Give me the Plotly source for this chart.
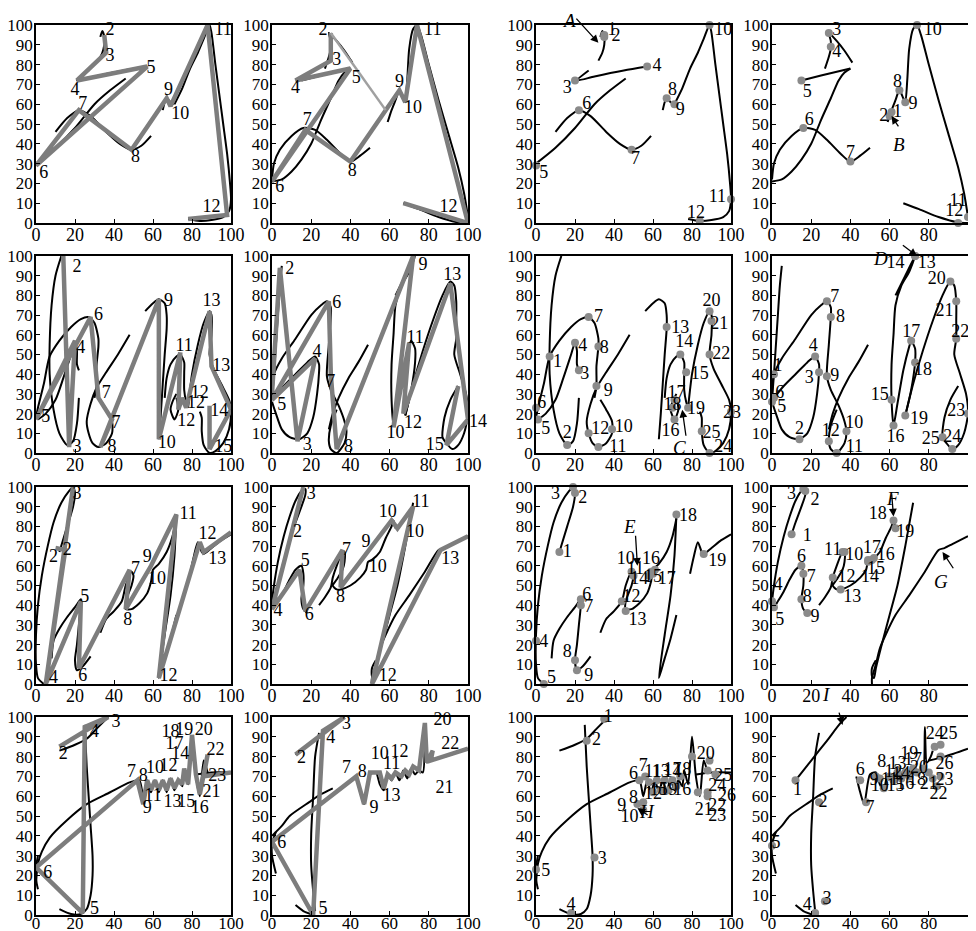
import plotly.graph_objects as go

# ---------------- data ----------------
# Row 1 strokes (left pair = columns 1 & 3, right pair = columns 2 & 4)
r1L_strokes = [
    [(32,82),(34,86),(35,90),(35,94),(34,97),(33,94)],
    [(27,77),(21,72),(30,74),(45,77),(57,79)],
    [(0,30),(10,38),(20,48),(30,60),(38,67),(46,73)],
    [(10,46),(16,53),(22,57),(28,54),(36,46),(43,40),(49,37),(54,39),(59,44)],
    [(65,57),(66,61),(67,63),(69,61),(71,60)],
    [(71,60),(75,68),(79,78),(83,86),(86,93),(89,100),(90,96),(92,80),(94,65),(96,50),(98,35),(99.5,20),(100,12),(99,6),(96,3),(90,1.5),(84,1),(78,2)],
]
r1c1_gray = [(35,95),(36,86),(21,72),(57,79),(0,29),(22,57),(49,37),(67,63),(69,59),(88,100),(98,4),(78,2)]
r1c1_labels = [("2",38,97),("3",38,84),("4",20,67),("5",59,78),("6",4,25),("7",24,60),("8",51,33),("9",68,67),("10",74,55),("11",96,97),("12",90,8)]
r1c3_points = [(35,95),(35,94),(20,72),(57,79),(0,29),(22,57),(49,37),(67,63),(71,60),(89,100),(100,12),(84,1)]
r1c3_labels = [("1",39,97),("2",41,94),("3",16,68),("4",62,79),("5",4,25),("6",26,60),("7",51,32),("8",70,67),("9",74,57),("10",96,97),("11",93,13),("12",82,5)]

r1R_strokes = [
    [(41,81),(37,87),(33,92),(29,96),(30,92),(30,88),(29,84),(27,78)],
    [(15,72),(25,74.5),(40,78)],
    [(0,21),(5,22),(10,26),(15,32),(20,40),(25,52),(30,63),(34,72),(37,76),(40,78)],
    [(0,22),(1,30),(4,37),(10,44),(16,48),(22,47),(28,42),(35,35),(40,31),(45,34),(50,38)],
    [(59,51),(60,54),(61,57),(63,62),(65,67),(67,63),(68,61),(69,72),(70,88),(72,98),(74,100),(76,95),(80,80),(85,62),(90,45),(95,28),(98,15),(100,3)],
    [(67,10),(75,7),(85,3),(95,0.3),(100,0)],
]
r1c2_gray = [(30,96),(30,82),(12,72),(40,78),(0,21),(17,47),(40,31),(65,67),(68,61),(74,100),(100,0),(67,10)]
r1c2_thin = [(30,96),(58,57)]
r1c2_labels = [("2",26,97),("3",33,82),("4",12,68),("5",43,73),("6",4,18),("7",18,52),("8",41,26),("9",65,71),("10",72,58),("11",82,97),("12",90,8)]
r1c4_points = [(29,96),(30,89),(15,72),(16,48),(40,31),(60,54),(61,56),(65,67),(68,61),(74,100),(100,3),(95,0)]
r1c4_labels = [("3",33,97),("4",33,86),("5",18,66),("6",19,52),("7",40,35),("2",57,54),("1",64,56),("8",64,71),("9",72,60),("10",82,97),("11",95,11),("12",93,6)]

# Row 2
r2L_strokes = [
    [(13,100),(10,90),(8,75),(7,55),(7,40),(9,22),(12,10),(16,4),(19,6),(21,15),(22,28)],
    [(0,18),(1,23),(4,35),(7,49),(12,57),(18,64),(23,68),(27,69),(30,66),(32,58),(32,54),(31,44),(31,34),(30,28)],
    [(48,60),(42,50),(36,41),(31,33),(28,25),(26,16),(27,10),(29,5),(32,3),(36,5),(39,10),(39,16),(36,22),(33,27)],
    [(1,17),(5,20),(10,27),(14,38),(18,50),(20,56),(21,52),(21,45),(22,42)],
    [(56,72),(60,76),(63,78),(66,76),(67,70),(67,63),(66,50),(65,35),(64,20),(63,7)],
    [(66,28),(67,38),(69,45),(72,49),(74,50),(76,46),(76,41),(76,32),(77,26),(78,23)],
    [(78,23),(80,40),(83,55),(86,66),(89,72),(90,70),(90,60),(89,50),(91,43),(95,35),(99,27),(100,21),(99,12),(96,5),(92,1),(89,0),(86,4),(85,11),(85,18),(84,21)],
    [(72,30),(70,26),(69,22),(71,17),(73,22),(72,28)],
]
r2c1_gray = [(14,100),(17,3),(20,57),(0,17),(28,69),(32,28),(39,17),(33,3),(63,78),(63,7),(74,51),(73,22),(75,28),(77,23),(89,72),(90,44),(100,22),(89,2),(89,24)]
r2c1_labels = [("2",21,94),("3",21,3),("4",23,53),("5",5,18),("6",32,70),("7",36,30),("7",41,15),("8",39,3),("9",68,77),("10",67,5),("11",76,54),("12",84,30),("12",82,25),("12",77,16),("13",90,77),("13",95,44),("14",94,21),("15",96,3)]
r2c3_points = [(7,49),(16,4),(22,42),(20,56),(1,17),(0,23),(27,69),(32,54),(31,34),(39,12),(32,3),(27,10),(67,64),(74,50),(77,41),(71,17),(71,27),(70,23),(78,23),(89,72),(90,67),(89,50),(100,21),(89,0),(85,11)]
r2c3_labels = [("1",11,46),("2",16,10),("3",25,40),("4",24,54),("5",5,12),("6",3,25),("7",32,69),("8",35,53),("9",37,31),("10",45,13),("11",42,3),("12",33,12),("13",74,63),("14",76,56),("15",84,40),("16",69,11),("17",72,30),("18",70,24),("19",82,22),("20",90,77),("21",94,65),("22",95,50),("23",106,21),("24",96,3),("25",90,10)]

r2R_strokes = [
    [(0,27),(1,40),(2,55),(3,70),(4,85),(5,95)],
    [(1,28),(6,34),(12,40),(18,46),(22,49),(24,45),(24,41),(23,30),(21,18),(18,10),(14,7),(9,8),(5,12),(2,20),(0,26)],
    [(0,30),(1,40),(5,48),(12,58),(20,70),(25,75),(28,77),(30,74),(30,69),(29,55),(28,39),(30,32),(34,24),(37,16),(38,11),(37,5),(33,0),(30,2),(29,6),(30,14),(33,22)],
    [(49,55),(44,46),(39,38),(34,28),(31,20),(29,12)],
    [(63,80),(68,90),(73,100),(70,92),(66,85),(63,75),(62,60),(61,45),(61,27),(62,14),(64,25),(67,42),(70,54),(71,57),(73,53),(73,46),(71,32),(68,19)],
    [(68,19),(72,35),(77,52),(82,67),(87,80),(91,87),(93,85),(94,77),(94,67),(94,58),(93,50),(96,40),(99,30),(100,20),(98,10),(95,4),(92,2),(89,5),(87,8),(88,18),(91,27),(95,34)],
]
r2c2_gray = [(0,30),(4,94),(13,6),(22,48),(0,27),(29,77),(30,40),(33,2),(72,100),(62,13),(70,56),(67,20),(91,86),(100,17),(89,4),(95,34)]
r2c2_labels = [("2",9,93),("3",18,4),("4",23,51),("5",5,24),("6",33,76),("7",30,36),("8",39,3),("9",77,95),("10",63,10),("11",73,58),("12",72,15),("13",92,90),("14",105,16),("15",83,4)]
r2c4_points = [(1,40),(14,7),(24,41),(22,49),(0,26),(1,28),(28,77),(30,69),(28,39),(38,11),(33,0),(29,6),(73,100),(73,100),(61,27),(62,14),(71,57),(73,46),(68,19),(91,87),(94,77),(94,58),(100,20),(92,2),(87,8)]
r2c4_labels = [("1",3,44),("2",14,12),("3",19,38),("4",21,54),("5",5,23),("6",4,30),("7",32,79),("8",35,69),("9",32,39),("10",42,15),("11",42,3),("12",30,11),("13",79,96),("14",63,96),("15",55,29),("16",63,8),("17",71,61),("18",77,42),("19",75,17),("20",84,88),("21",88,72),("22",96,61),("23",94,21),("24",92,8),("25",81,7)]

# Row 3
r3L_strokes = [
    [(4,0),(1,3),(0,10),(0,25),(1,40),(3,55),(6,70),(9,82),(13,92),(17,98),(19,100),(20,97),(19,90),(16,80),(12,67)],
    [(8,13),(9,22),(12,28),(16,34),(20,39),(23,43),(23,40),(22,30),(21,20),(20,12),(21,7),(24,9),(28,14)],
    [(33,26),(36,33),(40,37),(44,42),(46,50),(49,57),(50,55),(49,50),(46,42),(46,38),(49,38),(53,41),(57,46),(59,52),(60,58),(63,61),(67,67),(70,75),(72,84)],
    [(72,86),(71,65),(69,45),(66,25),(63,3),(66,13),(69,23),(72,35)],
    [(79,56),(81,65),(83,72),(85,67),(86,66),(90,69),(95,73),(100,76)],
]
r3c1_gray = [(10,69),(15,68),(5,0),(19,100),(5,0),(23,42),(22,8),(48,58),(46,38),(59,60),(72,86),(63,3),(84,72),(86,67),(100,77)]
r3c1_labels = [("2",9,64),("2",16,68),("3",21,96),("4",9,3),("5",25,44),("6",24,4),("7",51,58),("8",47,32),("9",57,64),("10",62,53),("11",78,86),("12",68,4),("12",88,76),("13",93,63)]
r3c3_points = [(12,67),(20,97),(19,100),(0,22),(4,0),(23,43),(23,40),(20,12),(21,7),(49,57),(50,55),(44,42),(46,37),(58,55),(59,57),(61,58),(60,56),(72,86),(86,66)]
r3c3_labels = [("1",16,67),("2",24,94),("3",10,96),("4",4,21),("5",8,3),("6",26,45),("7",27,39),("8",16,16),("9",27,4),("10",46,63),("11",51,58),("12",49,44),("13",52,32),("14",53,53),("15",60,54),("16",59,63),("17",67,53),("18",78,85),("19",93,62)]

r3R_strokes = [
    [(0,42),(1,50),(3,62),(6,75),(9,85),(12,93),(15,98),(17,99),(17,96),(15,90),(12,82),(10,76)],
    [(0,40),(1,39),(3,42),(6,47),(9,53),(12,58),(15,60),(16,56),(16,50),(15,43),(16,38),(18,36)],
    [(24,40),(27,44),(30,49),(31,54),(33,60),(36,67),(37,67),(37,62),(36,58),(33,53),(31,50),(33,48),(35,48),(40,50),(45,54),(48,58),(49,62),(51,63),(55,67),(58,74),(61,80),(62,83),(63,79)],
    [(51,0),(51,3),(53,10),(55,18),(58,25),(63,35),(70,45),(78,57),(85,68),(88,69),(92,71),(96,73),(100,75)],
    [(72,92),(68,70),(64,50),(60,35),(56,20),(53,8),(52,3),(51,4),(51,8),(53,12)],
]
r3c2_gray = [(16,100),(0,38),(14,58),(17,37),(36,68),(35,49),(61,83),(64,79),(72,90),(51,0),(86,68),(100,75)]
r3c2_labels = [("2",13,77),("3",20,96),("4",3,37),("5",17,62),("6",19,35),("7",38,68),("8",35,44),("9",48,72),("10",59,87),("10",73,77),("10",54,59),("11",76,92),("12",59,4),("13",91,63)]
r3c4_points = [(10,76),(17,98),(16,99),(0,42),(1,39),(15,60),(16,56),(15,43),(18,36),(37,67),(36,67),(31,54),(35,48),(49,62),(49,63),(52,64),(51,63),(62,83),(63,79)]
r3c4_labels = [("1",18,75),("2",22,93),("3",10,96),("4",3,50),("5",4,32),("6",15,64),("7",20,54),("8",18,44),("9",22,34),("10",42,65),("11",31,68),("12",38,54),("13",41,44),("14",50,54),("15",53,58),("16",58,65),("17",51,69),("18",54,86),("19",68,77)]

# Row 4
r4L_strokes = [
    [(12,83),(20,86),(26,89),(31,94),(37,100)],
    [(25,96),(26,75),(27,60),(28,45),(29,30),(29,20),(28,10),(26,3),(23,0.5),(18,0.5),(12,3)],
    [(1,30),(0,24),(0,18),(1,13)],
    [(0,16),(1,26),(3,32),(7,39),(16,48),(26,56),(38,62),(48,67),(53,68),(55,60),(57,68),(59,62),(61,68),(63,62),(65,68),(67,62),(69,69),(71,63),(73,68),(75,65),(76,73),(78,66),(80,90),(82,70),(84,60),(86,78),(88,72)],
    [(82,71),(90,72),(100,72)],
]
r4c1_gray = [(12,85),(37,100),(25,95),(24,1),(0,24),(52,68),(55,56),(57,68),(59,63),(61,68),(63,63),(65,68),(67,63),(69,69),(71,64),(73,68),(75,66),(76,74),(78,66),(80,91),(82,71),(84,61),(88,81),(86,70),(100,72)]
r4c1_labels = [("2",14,81),("3",41,97),("4",30,92),("5",30,3),("6",6,21),("7",49,72),("8",55,70),("9",57,54),("10",61,74),("11",60,60),("12",68,75),("13",70,57),("14",74,81),("15",77,57),("16",84,54),("17",71,86),("18",69,92),("19",76,93),("20",86,93),("21",90,62),("22",92,83),("23",93,70)]
r4c3_points = [(35,99),(26,88),(30,29),(18,1),(0,23),(53,68),(56,70),(55,57),(52,56),(55,53),(58,67),(60,62),(62,68),(64,63),(66,68),(68,63),(70,68),(72,65),(74,70),(80,80),(83,62),(88,62),(88,60),(88,73),(89,78),(92,71)]
r4c3_labels = [("1",37,100),("2",31,88),("3",34,28),("4",18,5),("5",5,22),("6",50,71),("7",55,75),("8",50,59),("9",44,55),("10",48,49),("11",60,72),("12",60,61),("13",64,72),("14",70,72),("15",63,63),("16",75,63),("17",70,73),("18",75,73),("19",68,63),("20",87,81),("21",86,53),("22",93,55),("23",93,50),("24",93,65),("25",96,70),("26",98,60)]

r4R_strokes = [
    [(24,92),(22,80),(21,60),(20,41),(20,25),(21,12),(22,2)],
    [(12,5),(16,2),(21,0)],
    [(2,42),(0,36),(0,30),(2,21)],
    [(0,40),(5,45),(9,50),(19,57),(25,61),(31,64)],
    [(43,70),(45,62),(47,56),(50,71),(53,72),(55,66),(57,63),(59,71),(61,68),(63,72),(65,68),(67,73),(69,69),(71,74),(73,71),(75,73),(77,72),(78,95),(79,77),(81,80),(82,83)],
    [(80,78),(88,80),(100,84)],
]
r4c2_top = [(12,81),(20,87),(26,92),(32,96),(37,100)]
r4c4_top = [(12,68),(20,78),(28,88),(35,97),(38,100)]
r4c2_gray = [(12,81),(37,100),(26,93),(21,0),(0,37),(43,70),(47,56),(50,72),(55,72),(57,64),(59,71),(61,69),(63,72),(66,70),(68,73),(70,71),(72,75),(75,73),(78,97),(79,77),(82,83),(81,78),(100,84)]
r4c2_labels = [("2",15,79),("3",38,96),("4",30,89),("5",26,3),("6",5,36),("7",38,74),("8",46,72),("9",52,54),("10",55,81),("12",65,82),("11",61,76),("13",61,60),("20",87,98),("22",91,86),("21",88,64)]
r4c4_points = [(12,68),(24,57),(27,7),(22,1),(0,35),(45,68),(48,57),(53,70),(55,69),(57,64),(60,70),(62,68),(64,72),(66,69),(68,72),(70,70),(72,74),(74,72),(77,74),(80,72),(82,69),(84,65),(86,70),(83,85),(86,86),(86,80)]
r4c4_labels = [("1",13,63),("2",26,57),("3",28,8),("4",18,5),("5",2,36),("6",45,73),("7",50,54),("8",56,77),("9",52,68),("10",55,65),("11",60,68),("12",62,72),("13",64,76),("14",66,71),("15",63,65),("16",68,66),("17",72,78),("18",74,68),("19",70,81),("20",75,74),("21",80,66),("22",85,61),("23",88,68),("24",83,91),("25",90,91),("26",88,76)]

# letter callouts: (subplot, text, text_x, text_y, tail_x, tail_y, tip_x, tip_y)
callouts = [
    (3, "A", 17, 109, 20, 104, 32, 91),
    (4, "B", 69, 46, 65, 48, 61, 54),
    (7, "C", 78, 3, 77, 8, 75, 22),
    (8, "D", 60, 105, 66, 106, 74, 100),
    (11, "E", 48, 80, 51, 76, 52, 60),
    (12, "F", 66, 94, 61, 97, 62, 85),
    (12, "G", 91, 52, 93, 58, 87, 67),
    (15, "H", 62, 46, 58, 50, 52, 54),
    (16, "I", 31, 105, 34, 103, 36, 96),
]

xticks = [0, 20, 40, 60, 80, 100]
yticks = [0, 10, 20, 30, 40, 50, 60, 70, 80, 90, 100]

# ---------------- layout helpers ----------------
# the page is shown with an 8px body margin, so the figure starts 8px in
OFF = 8
W, H = 976 - OFF, 931 - OFF
XD = [(36, 231), (272, 468), (536, 731), (772, 968)]   # page pixel columns
YD = [(25, 223), (256, 453), (487, 684), (717, 915)]   # page pixel rows
FONT = "Liberation Serif"
GRAY = "#7d7d7d"
LABEL_SIZE = 18

fig = go.Figure()
annotations = []


def axes_ids(k):
    return ("x" if k == 1 else f"x{k}"), ("y" if k == 1 else f"y{k}")


def fx(px):
    return min(max((px - OFF) / W, 0.0), 1.0)


def fy(py):
    return min(max(1 - (py - OFF) / H, 0.0), 1.0)


def to_paper(k, x, y):
    r, c = (k - 1) // 4, (k - 1) % 4
    x0, x1 = XD[c]
    y0, y1 = YD[r]
    px = x0 + x / 100.0 * (x1 - x0)
    py = y1 - y / 100.0 * (y1 - y0)
    return fx(px), fy(py)


def add_strokes(k, strokes):
    xa, ya = axes_ids(k)
    for s in strokes:
        fig.add_trace(go.Scatter(x=[p[0] for p in s], y=[p[1] for p in s], mode="lines",
                                 line=dict(color="black", width=2, shape="spline", smoothing=0.7),
                                 xaxis=xa, yaxis=ya, hoverinfo="skip", showlegend=False))


def add_gray(k, pts, width=4.5, color=GRAY):
    xa, ya = axes_ids(k)
    fig.add_trace(go.Scatter(x=[p[0] for p in pts], y=[p[1] for p in pts], mode="lines",
                             line=dict(color=color, width=width),
                             xaxis=xa, yaxis=ya, hoverinfo="skip", showlegend=False))


def add_points(k, pts):
    xa, ya = axes_ids(k)
    fig.add_trace(go.Scatter(x=[p[0] for p in pts], y=[p[1] for p in pts], mode="markers",
                             marker=dict(color="#8a8a8a", size=8),
                             xaxis=xa, yaxis=ya, hoverinfo="skip", showlegend=False, cliponaxis=False))


def add_labels(k, labels):
    xa, ya = axes_ids(k)
    inside = [l for l in labels if 0 <= l[1] <= 100 and 0 <= l[2] <= 100]
    outside = [l for l in labels if l not in inside]
    fig.add_trace(go.Scatter(x=[l[1] for l in inside], y=[l[2] for l in inside], text=[l[0] for l in inside],
                             mode="text", textposition="middle center",
                             textfont=dict(family=FONT, size=LABEL_SIZE, color="black"),
                             xaxis=xa, yaxis=ya, hoverinfo="skip", showlegend=False, cliponaxis=False))
    for (t, x, y) in outside:
        px, py = to_paper(k, x, y)
        annotations.append(dict(xref="paper", yref="paper", x=px, y=py, text=t, showarrow=False,
                                font=dict(family=FONT, size=LABEL_SIZE, color="black")))


panels = {
    1: (r1L_strokes, r1c1_gray, None, r1c1_labels),
    2: (r1R_strokes, r1c2_gray, None, r1c2_labels),
    3: (r1L_strokes, None, r1c3_points, r1c3_labels),
    4: (r1R_strokes, None, r1c4_points, r1c4_labels),
    5: (r2L_strokes, r2c1_gray, None, r2c1_labels),
    6: (r2R_strokes, r2c2_gray, None, r2c2_labels),
    7: (r2L_strokes, None, r2c3_points, r2c3_labels),
    8: (r2R_strokes, None, r2c4_points, r2c4_labels),
    9: (r3L_strokes, r3c1_gray, None, r3c1_labels),
    10: (r3R_strokes, r3c2_gray, None, r3c2_labels),
    11: (r3L_strokes, None, r3c3_points, r3c3_labels),
    12: (r3R_strokes, None, r3c4_points, r3c4_labels),
    13: (r4L_strokes, r4c1_gray, None, r4c1_labels),
    14: (r4R_strokes + [r4c2_top], r4c2_gray, None, r4c2_labels),
    15: (r4L_strokes, None, r4c3_points, r4c3_labels),
    16: (r4R_strokes + [r4c4_top], None, r4c4_points, r4c4_labels),
}

for k, (strokes, gray, pts, labels) in panels.items():
    add_strokes(k, strokes)
    if gray is not None:
        add_gray(k, gray)
    if k == 2:
        add_gray(k, r1c2_thin, width=2.5, color="#a0a0a0")
    if pts is not None:
        add_points(k, pts)
    add_labels(k, labels)

layout = dict(width=W, height=H, margin=dict(l=0, r=0, t=0, b=0, autoexpand=False),
              paper_bgcolor="white", plot_bgcolor="white", showlegend=False)

for k in range(1, 17):
    r, c = (k - 1) // 4, (k - 1) % 4
    x0, x1 = XD[c]
    y0, y1 = YD[r]
    xname = "xaxis" if k == 1 else f"xaxis{k}"
    yname = "yaxis" if k == 1 else f"yaxis{k}"
    common = dict(range=[0, 100], showgrid=False, zeroline=False, showline=True, mirror=True,
                  linecolor="black", linewidth=1.5, ticks="inside", ticklen=4, tickcolor="black",
                  fixedrange=True, automargin=False)
    layout[xname] = dict(common, domain=[fx(x0), fx(x1)], tickvals=xticks,
                         tickfont=dict(family=FONT, size=18 if r < 3 else 17, color="black"),
                         anchor=axes_ids(k)[1], ticklabelstandoff=-5 if r < 3 else -8)
    layout[yname] = dict(common, domain=[fy(y1), fy(y0)], tickvals=yticks,
                         tickfont=dict(family=FONT, size=17, color="black"),
                         anchor=axes_ids(k)[0], ticklabelstandoff=-2)

for (k, t, tx, ty, ax, ay, hx, hy) in callouts:
    xa, ya = axes_ids(k)
    annotations.append(dict(xref=xa, yref=ya, x=hx, y=hy, ax=ax, ay=ay, axref=xa, ayref=ya,
                            text="", showarrow=True, arrowhead=2, arrowsize=1.2, arrowwidth=1.3,
                            arrowcolor="black"))
    px, py = to_paper(k, tx, ty)
    annotations.append(dict(xref="paper", yref="paper", x=px, y=py, text=f"<i>{t}</i>", showarrow=False,
                            font=dict(family=FONT, size=19, color="black")))
layout["annotations"] = annotations

fig.update_layout(**layout)
fig.write_html("out.html")
